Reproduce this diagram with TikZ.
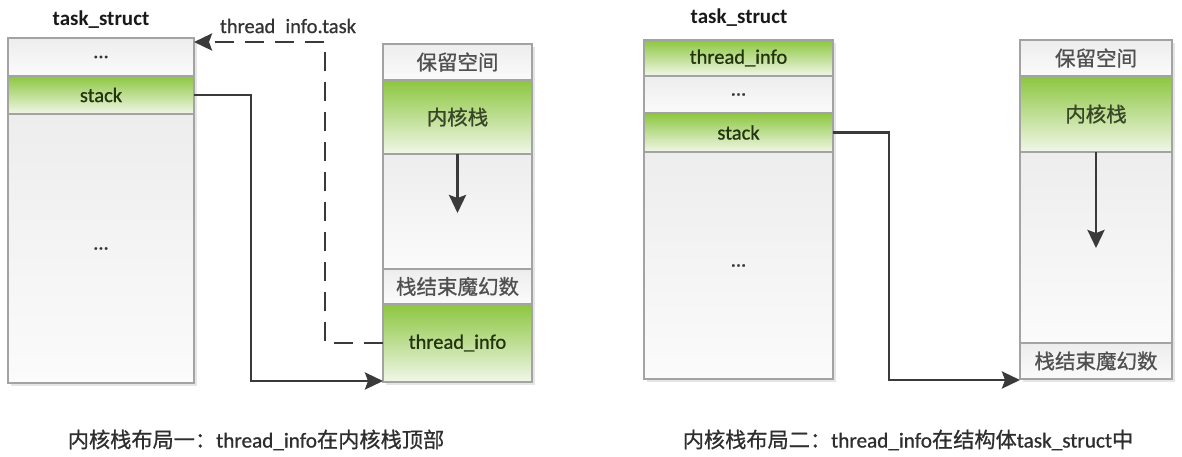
\documentclass[tikz,border=0pt]{standalone}
\usepackage{fontspec}
\setmainfont{Carlito}[UprightFeatures={FakeBold=0.8}]
\newfontfamily\cjk{Noto Sans CJK SC}[UprightFeatures={FakeBold=0.8}]
\usetikzlibrary{arrows.meta,calc}
\pgfdeclarelayer{background}
\pgfsetlayers{background,main}
\definecolor{bordergray}{HTML}{A3A3A3}
\definecolor{greentop}{HTML}{8CC63F}
\definecolor{greenmid}{HTML}{C4E19E}
\definecolor{greenbot}{HTML}{F1F7E9}
\definecolor{graytop}{HTML}{EDEDED}
\definecolor{graybot}{HTML}{FBFBFB}
\definecolor{linegray}{HTML}{3A3A3A}
\definecolor{textgray}{HTML}{333333}
\definecolor{zhgray}{HTML}{505050}
\definecolor{textgreen}{HTML}{22330D}
\definecolor{zhgreen}{HTML}{374626}
\definecolor{captiongray}{HTML}{2E2E2E}
\begin{document}
\begin{tikzpicture}[x=1pt,y=-1pt,
  cell/.style={draw=bordergray, line width=1.5pt, inner sep=0pt, outer sep=0pt,
    font=\fontsize{20.5}{24}\selectfont},
  graycell/.style={cell, top color=graytop, bottom color=graybot, text=textgray},
  greencell/.style={cell, top color=greentop, middle color=greenmid, bottom color=greenbot, text=textgreen},
  title/.style={font=\fontsize{21}{24}\selectfont\bfseries, text=black!90, inner sep=0pt},
  caption/.style={font=\fontsize{21.2}{24}\selectfont, text=captiongray, inner sep=0pt},
  label/.style={font=\fontsize{20.5}{24}\selectfont, text=textgray, inner sep=0pt},
  linkarrow/.style={draw=linegray, line width=2.9pt, -{Stealth[length=18pt,width=17pt,inset=3pt]}},
  dasharrow/.style={linkarrow, dash pattern=on 19pt off 11pt},
  shadowbox/.style={fill=black, opacity=0.10}
]
\useasboundingbox (0,0) rectangle (1182,456);

% ---------------- left layout ----------------
\node[title] (t1) at (101,20) {task\_struct};
\node[graycell, minimum width=186pt, minimum height=38pt] (L1) at (101,57) {...};
\node[greencell, minimum width=186pt, minimum height=38pt] (L2) at (101,95) {stack};
\node[graycell, minimum width=186pt, minimum height=269pt] (L3) at (101,248.5) {...};

\node[graycell, minimum width=149pt, minimum height=36pt, text=zhgray] (R1) at (457.5,62) {\cjk 保留空间};
\node[greencell, minimum width=149pt, minimum height=74pt, text=zhgreen] (R2) at (457.5,117) {\cjk 内核栈};
\node[graycell, minimum width=149pt, minimum height=115pt] (R3) at (457.5,211.5) {};
\node[graycell, minimum width=149pt, minimum height=35pt, text=zhgray] (R4) at (457.5,286.5) {\cjk 栈结束魔幻数};
\node[greencell, minimum width=149pt, minimum height=78pt] (R5) at (457.5,343) {thread\_info};

\node[label] (lbl) at (288,26) {thread\enspace info.task};

\coordinate (dcx) at (325,0);
\coordinate (dtip) at (194,42);
\coordinate (scx) at (251,0);
\coordinate (a1) at (457.5,213);

\draw[dasharrow] (R5.west) -- (R5.west -| dcx) |- (dtip);
\draw[linkarrow] (L2.east) -- (L2.east -| scx) |- ($(R5.south west)+(0,-1)$);
\draw[linkarrow] (R3.north) -- (a1);

% ---------------- right layout ----------------
\node[title] (t2) at (739,18) {task\_struct};
\node[greencell, minimum width=189pt, minimum height=36pt] (M1) at (738.5,58) {thread\_info};
\node[graycell, minimum width=189pt, minimum height=37pt] (M2) at (738.5,94.5) {...};
\node[greencell, minimum width=189pt, minimum height=39pt] (M3) at (738.5,132.5) {stack};
\node[graycell, minimum width=189pt, minimum height=227pt] (M4) at (738.5,265.5) {...};

\node[graycell, minimum width=152pt, minimum height=36pt, text=zhgray] (N1) at (1096,58) {\cjk 保留空间};
\node[greencell, minimum width=152pt, minimum height=76pt, text=zhgreen] (N2) at (1096,114) {\cjk 内核栈};
\node[graycell, minimum width=152pt, minimum height=191pt] (N3) at (1096,247.5) {};
\node[graycell, minimum width=152pt, minimum height=36pt, text=zhgray] (N4) at (1096,361) {\cjk 栈结束魔幻数};

\coordinate (scx2) at (889,0);
\coordinate (a2) at (1096,248);

\draw[linkarrow] (M3.east) -- (M3.east -| scx2) |- ($(N4.south west)+(0,1)$);
\draw[linkarrow] (N3.north) -- (a2);

% ---------------- captions ----------------
\node[caption] (c1) at (256,440) {{\cjk 内核栈布局一：}thread\_info{\cjk 在内核栈顶部}};
\node[caption] (c2) at (908,440) {{\cjk 内核栈布局二：}thread\_info{\cjk 在结构体}task\_struct{\cjk 中}};

% ---------------- soft shadows ----------------
\begin{pgfonlayer}{background}
\fill[shadowbox] ($(L1.north west)+(3,3)$) rectangle ($(L3.south east)+(3,3)$);
\fill[shadowbox] ($(R1.north west)+(3,3)$) rectangle ($(R5.south east)+(3,3)$);
\fill[shadowbox] ($(M1.north west)+(3,3)$) rectangle ($(M4.south east)+(3,3)$);
\fill[shadowbox] ($(N1.north west)+(3,3)$) rectangle ($(N4.south east)+(3,3)$);
\end{pgfonlayer}
\end{tikzpicture}
\end{document}
